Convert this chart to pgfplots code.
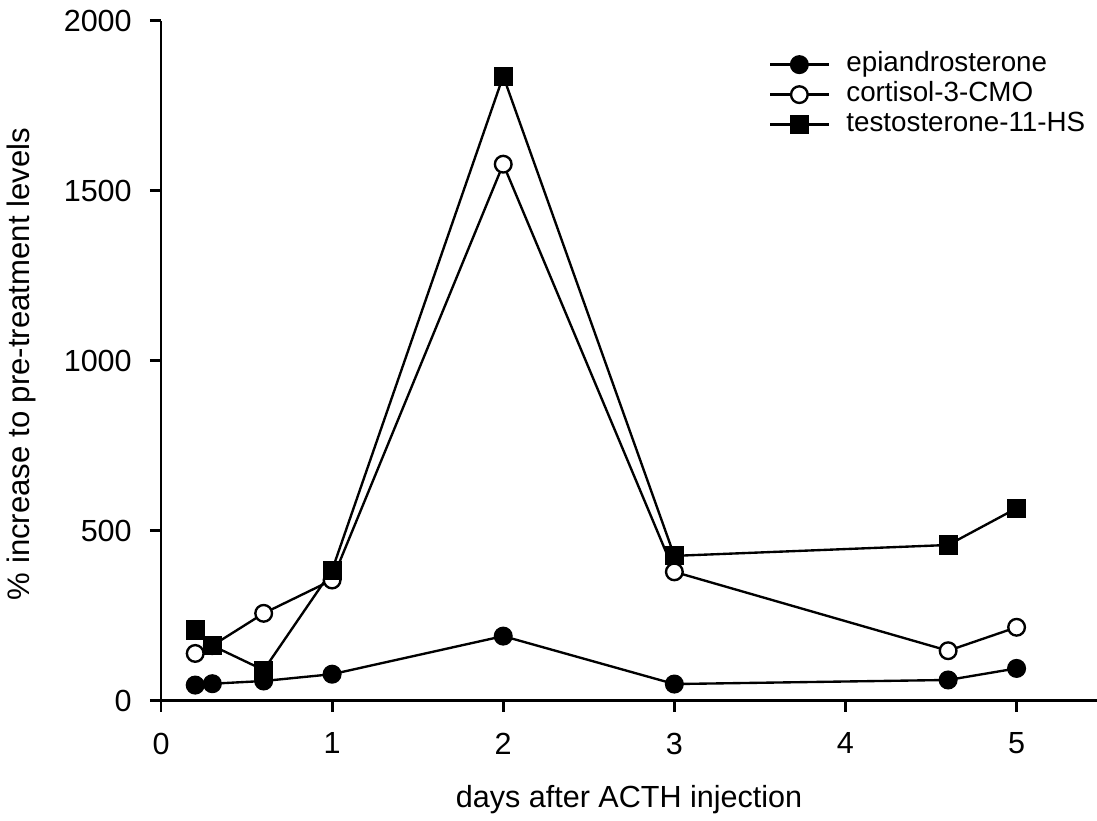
\documentclass[border=0pt]{standalone}
\usepackage{fontspec}
\setmainfont{Liberation Sans}
\usepackage{pgfplots}
\pgfplotsset{compat=1.18}
\begin{document}
\begin{tikzpicture}
\begin{axis}[
  scale only axis,
  width=336.96pt, height=244.8pt,
  xmin=0, xmax=5.47, ymin=0, ymax=2000,
  axis lines=left,
  axis line style={line width=1pt, -},
  xtick={0,1,2,3,4,5},
  ytick={0,500,1000,1500,2000},
  tick align=outside,
  major tick length=4pt,
  tick style={line width=1pt, black},
  /pgf/number format/assume math mode=true,
  /pgf/number format/1000 sep={},
  ticklabel style={font=\fontsize{11}{13}\selectfont},
  xticklabel style={yshift=-4pt},
  yticklabel style={xshift=-3pt},
  xlabel={days after ACTH injection},
  ylabel={\% increase to pre-treatment levels},
  xlabel style={font=\fontsize{11}{13}\selectfont, at={(axis description cs:0.5,0)}, anchor=center, yshift=-35.7pt},
  ylabel style={font=\fontsize{11.2}{13}\selectfont, at={(axis description cs:0,0.495)}, anchor=center, yshift=50.1pt},
  legend style={draw=none, fill=none, at={(0.649,0.955)}, anchor=north west,
    font=\fontsize{10}{12}\selectfont, row sep=1.6pt, inner sep=0pt,
    nodes={text height=7.2pt, text depth=2pt, inner sep=0pt},
    /tikz/every odd column/.append style={column sep=6pt}},
  legend cell align=left,
  legend image code/.code={
    \draw[line width=0.85pt] (0pt,0pt) -- (21pt,0pt);
    \draw[line width=0.85pt, mark repeat=2, mark phase=2] plot coordinates {(0pt,0pt) (10.5pt,0pt) (21pt,0pt)};
  },
  every axis plot/.append style={line width=0.85pt, black},
]
\addplot[mark=*, mark size=3pt, mark options={fill=black, solid}] coordinates {
 (0.2,46) (0.3,50) (0.6,58) (1,78) (2,190) (3,49) (4.6,61) (5,95)};
\addlegendentry{epiandrosterone}
\addplot[mark=*, mark size=3pt, mark options={fill=white, solid}] coordinates {
 (0.2,139) (0.3,162) (0.6,257) (1,355) (2,1578) (3,379) (4.6,147) (5,216)};
\addlegendentry{cortisol-3-CMO}
\addplot[mark=square*, mark size=3pt, mark options={fill=black, solid}] coordinates {
 (0.2,208) (0.3,162) (0.6,90) (1,384) (2,1837) (3,426) (4.6,458) (5,566)};
\addlegendentry{testosterone-11-HS}
\end{axis}
\pgfresetboundingbox
\path[use as bounding box] (-57.96pt,-42.95pt) rectangle (336.96pt,252.25pt);
\end{tikzpicture}
\end{document}
